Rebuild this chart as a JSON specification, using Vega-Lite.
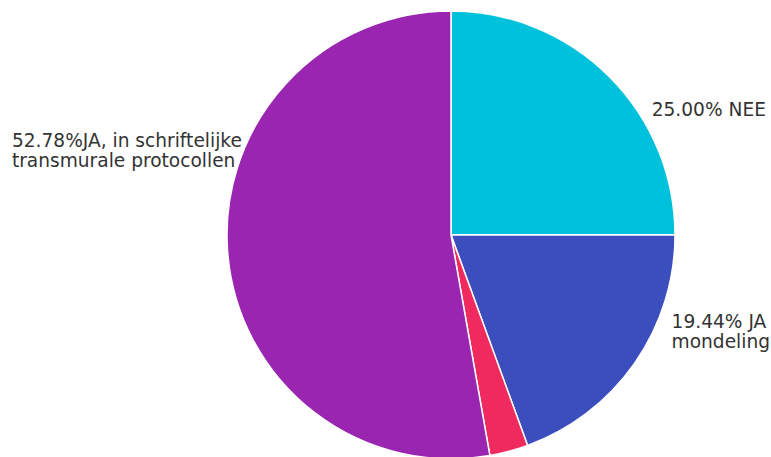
{
  "$schema": "https://vega.github.io/schema/vega-lite/v6.json",
  "width": 448,
  "height": 448,
  "autosize": {"type": "none"},
  "padding": {"left": 227, "top": 11, "right": 96, "bottom": 0},
  "background": "white",
  "view": {"stroke": null},
  "data": {
    "values": [
      {"category": "NEE", "value": 9, "label": "25.00% NEE"},
      {"category": "JA mondeling", "value": 7, "label": "19.44% JA\nmondeling"},
      {"category": "Anders", "value": 1, "label": "2.78%"},
      {"category": "JA, in schriftelijke transmurale protocollen", "value": 19, "label": "52.78%JA, in schriftelijke\ntransmurale protocollen"}
    ]
  },
  "transform": [{"window": [{"op": "row_number", "as": "rn"}]}],
  "encoding": {
    "theta": {"field": "value", "type": "quantitative", "stack": true},
    "order": {"field": "rn", "type": "quantitative"}
  },
  "layer": [
    {
      "mark": {"type": "arc", "stroke": "white", "strokeWidth": 1.5},
      "encoding": {
        "color": {
          "field": "category",
          "type": "nominal",
          "scale": {
            "domain": ["NEE", "JA mondeling", "Anders", "JA, in schriftelijke transmurale protocollen"],
            "range": ["#00C1DB", "#3C4EBE", "#F0295F", "#9A25B1"]
          },
          "legend": null
        }
      }
    },
    {
      "mark": {"type": "text", "radius": 240, "align": "left", "baseline": "middle", "dx": 31, "dy": 45, "fontSize": 18.6, "font": "DejaVu Sans", "fill": "#333333", "lineBreak": "\n", "lineHeight": 20},
      "encoding": {"text": {"condition": {"test": "datum.category === 'NEE'", "field": "label"}, "value": ""}}
    },
    {
      "mark": {"type": "text", "radius": 240, "align": "left", "baseline": "middle", "dx": 24, "dy": -51, "fontSize": 18.6, "font": "DejaVu Sans", "fill": "#333333", "lineBreak": "\n", "lineHeight": 20},
      "encoding": {"text": {"condition": {"test": "datum.category === 'JA mondeling'", "field": "label"}, "value": ""}}
    },
    {
      "mark": {"type": "text", "radius": 240, "align": "left", "baseline": "middle", "dx": -200, "dy": -115, "fontSize": 18.6, "font": "DejaVu Sans", "fill": "#333333", "lineBreak": "\n", "lineHeight": 20},
      "encoding": {"text": {"condition": {"test": "datum.category === 'JA, in schriftelijke transmurale protocollen'", "field": "label"}, "value": ""}}
    }
  ]
}
